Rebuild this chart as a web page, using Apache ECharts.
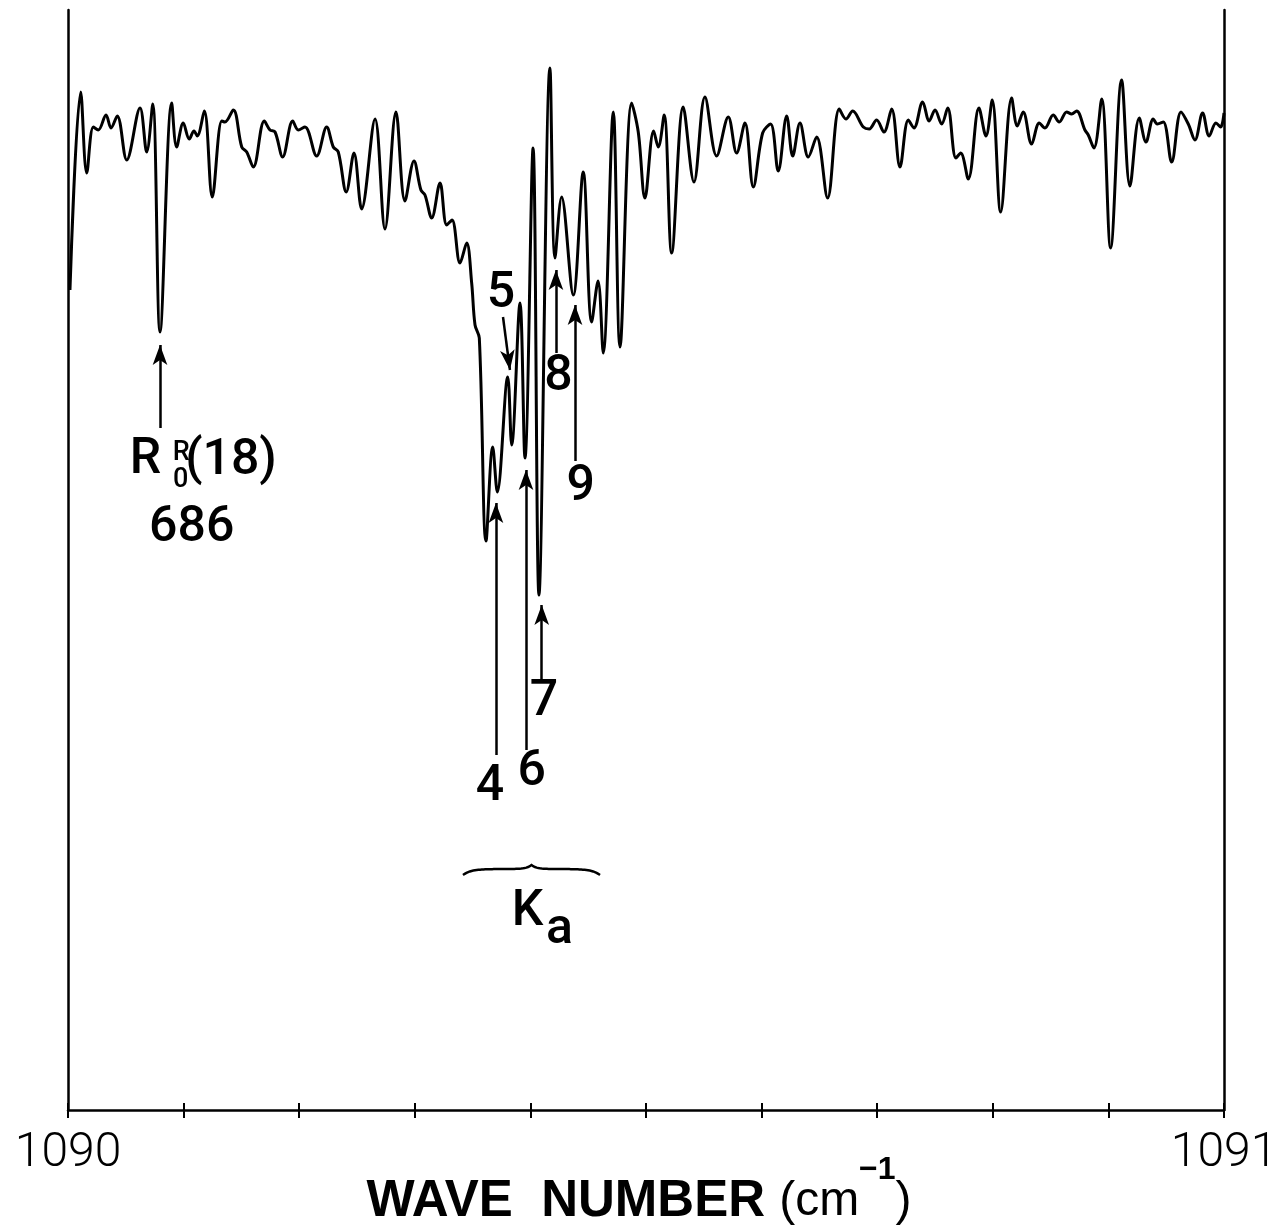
<!DOCTYPE html>
<html><head><meta charset="utf-8">
<script src="https://cdn.jsdelivr.net/npm/echarts@6/dist/echarts.min.js"></script>
<style>html,body{margin:0;padding:0;background:#fff}#c{width:1278px;height:1232px}</style>
</head><body><div id="c"></div>
<script>
// Wave number (cm^-1) of each traced point of the spectrum
const waveNumber = [1090.0017,1090.0110,1090.0162,1090.0219,1090.0262,1090.0329,1090.0372,1090.0426,1090.0508,1090.0623,
1090.0681,1090.0733,1090.0796,1090.0897,1090.0940,1090.0997,1090.1049,1090.1090,1090.1118,1090.1179,
1090.1248,1090.1330,1090.1358,1090.1430,1090.1503,1090.1546,1090.1603,1090.1698,1090.1747,1090.1791,
1090.1857,1090.1944,1090.1992,1090.2050,1090.2151,1090.2238,1090.2295,1090.2338,1090.2407,1090.2474,
1090.2540,1090.2656,1090.2742,1090.2837,1090.2915,1090.2993,1090.3053,1090.3088,1090.3146,1090.3218,
1090.3276,1090.3322,1090.3391,1090.3449,1090.3492,1090.3521,1090.3558,1090.3616,1090.3674,1090.3714,
1090.3804,1090.3838,1090.3910,1090.3953,1090.4023,1090.4074,1090.4169,1090.4213,1090.4270,1090.4371,
1090.4457,1090.4530,1090.4585,1090.4630,1090.4717,1090.4775,1090.4876,1090.4933,1090.4991,1090.5066,
1090.5106,1090.5157,1090.5222,1090.5322,1090.5415,1090.5510,1090.5611,1090.5712,1090.5784,1090.5856,
1090.5928,1090.6009,1090.6078,1090.6144,1090.6217,1090.6269,1090.6332,1090.6404,1090.6476,1090.6571,
1090.6672,1090.6730,1090.6788,1090.6880,1090.6931,1090.6995,1090.7058,1090.7125,1090.7197,1090.7269,
1090.7318,1090.7393,1090.7450,1090.7500,1090.7558,1090.7610,1090.7681,1090.7722,1090.7788,1090.7880,
1090.7941,1090.7995,1090.8068,1090.8163,1090.8212,1090.8263,1090.8336,1090.8402,1090.8451,1090.8523,
1090.8575,1090.8639,1090.8682,1090.8725,1090.8797,1090.8826,1090.8875,1090.8942,1090.9019,1090.9114,
1090.9186,1090.9267,1090.9325,1090.9388,1090.9423,1090.9475,1090.9547,1090.9628,1090.9691,1090.9749,
1090.9815,1090.9872,1090.9930,1090.9971,1091.0000];

// Transmission (arbitrary units) at each point
const transmission = [82.0,101.8,93.7,98.3,98.0,99.5,98.2,99.4,95.0,100.2,
95.8,100.6,77.8,100.7,96.3,98.7,97.1,97.9,97.4,99.9,
91.3,98.9,98.8,100.0,96.3,95.8,94.3,98.9,98.0,97.8,
95.3,98.9,98.0,98.3,95.4,98.3,96.3,95.8,91.8,95.7,
90.1,99.1,88.1,99.8,90.9,94.9,92.0,91.5,89.2,92.7,
88.5,89.0,84.7,86.7,82.7,78.5,77.2,56.9,66.3,61.8,
73.3,66.5,80.7,65.2,96.2,51.5,104.2,85.2,91.3,81.5,
93.8,78.8,82.9,75.7,99.8,76.3,100.7,97.8,91.2,97.9,
96.3,99.5,85.7,100.3,92.8,101.3,95.4,99.3,95.7,98.7,
92.3,97.7,98.6,93.9,99.4,95.4,98.7,95.3,97.3,91.2,
100.1,99.1,99.9,98.3,98.1,99.0,97.8,100.1,94.3,99.0,
98.2,100.8,98.9,100.0,98.6,100.2,95.2,95.7,93.1,100.2,
97.4,101.0,89.8,101.2,98.4,99.8,96.6,98.7,98.2,99.5,
98.8,99.8,99.6,99.9,98.0,97.5,96.2,101.1,86.2,103.0,
92.4,99.2,96.8,99.1,98.6,98.8,94.8,99.8,98.6,97.0,
99.7,97.4,98.7,98.3,99.7];

// Labelled ticks of the x axis
const labelledTicks = [1090, 1091];

// Annotation arrows: tail -> head, in data units
const arrowTail = [[1090.0796,68.2],[1090.3702,35.5],[1090.3763,79.3],[1090.3962,36.0],[1090.4098,43.0],[1090.4221,75.7],[1090.4386,64.9]];
const arrowHead = [[1090.0796,76.5],[1090.3702,60.7],[1090.3823,74.0],[1090.3962,64.0],[1090.4098,50.5],[1090.4221,84.0],[1090.4386,80.5]];

// Annotation texts (large) and their anchor points
const bigText = ['R','(18)','686','4','5','6','7','8','9','K','a'];
const bigX = [1090.0670,1090.1410,1090.1070,1090.3650,1090.3745,1090.4011,1090.4117,1090.4243,1090.4435,1090.3975,1090.4252];
const bigY = [65.0,64.9,58.2,32.3,81.6,33.8,40.8,73.3,62.3,19.75,18.0];

// Annotation texts (small super/subscripts)
const smallText = ['R','0'];
const smallX = [1090.0980,1090.0975];
const smallY = [65.7,63.0];

// Brace under the K_a group
const braceFrom = 1090.3417, braceTo = 1090.4602, braceLevel = 24.1;

const chart = echarts.init(document.getElementById('c'), null, {renderer:'canvas'});
const spectrum = waveNumber.map((x,i)=>[x, transmission[i]]);
const FONT = 'Liberation Sans';
const ANN = 'Roboto';

const option = {
  backgroundColor:'#fff',
  animation:false,
  title:{
    text:'{b|WAVE  NUMBER }{n|(cm}{s|−1}{n|)}',
    left:'center',top:1154,padding:0,
    textStyle:{fontWeight:'normal',rich:{
      b:{fontFamily:FONT,fontWeight:'bold',fontSize:51,color:'#000',lineHeight:96,verticalAlign:'middle'},
      n:{fontFamily:FONT,fontWeight:'normal',fontSize:48,color:'#000',lineHeight:96,verticalAlign:'middle'},
      s:{fontFamily:FONT,fontWeight:'bold',fontSize:32,color:'#000',lineHeight:30,verticalAlign:'top'}
    }}
  },
  grid:{left:68,right:54,top:10,bottom:122,containLabel:false,outerBoundsMode:'none'},
  xAxis:[{
    type:'value',min:1090,max:1091,interval:0.1,position:'bottom',
    axisLine:{show:true,lineStyle:{color:'#000',width:2.5}},
    axisTick:{show:true,inside:false,length:8,lineStyle:{color:'#000',width:2}},
    splitLine:{show:false},
    axisLabel:{show:true,margin:20,color:'#000',fontFamily:'Roboto',fontWeight:300,fontSize:48,
      formatter:v=>labelledTicks.some(t=>Math.abs(t-v)<1e-6)?String(Math.round(v)):''}
  },{
    type:'value',min:1090,max:1091,interval:0.1,position:'bottom',
    axisLine:{show:false},
    axisTick:{show:true,inside:true,length:7,lineStyle:{color:'#000',width:2}},
    axisLabel:{show:false},splitLine:{show:false}
  }],
  yAxis:[{
    type:'value',min:0,max:110,position:'left',
    axisLine:{show:true,lineStyle:{color:'#000',width:2.5}},
    axisTick:{show:false},axisLabel:{show:false},splitLine:{show:false}
  },{
    type:'value',min:0,max:110,position:'right',
    axisLine:{show:true,lineStyle:{color:'#000',width:2.5}},
    axisTick:{show:false},axisLabel:{show:false},splitLine:{show:false}
  }],
  series:[{
    type:'line',data:spectrum,showSymbol:false,smooth:0.35,clip:false,
    lineStyle:{color:'#000',width:3},
    markLine:{silent:true,animation:false,symbol:['none','arrow'],symbolSize:[11,20],
      label:{show:false},
      lineStyle:{color:'#000',width:2.5,type:'solid'},
      data:arrowTail.map((t,i)=>[{coord:t},{coord:arrowHead[i]}])}
  },{
    type:'scatter',symbolSize:0,itemStyle:{color:'#000'},
    data:bigText.map((t,i)=>({name:t,value:[bigX[i],bigY[i]]})),
    label:{show:true,position:'inside',formatter:'{b}',color:'#000',opacity:1,textBorderWidth:0,fontFamily:ANN,fontWeight:500,fontSize:50}
  },{
    type:'scatter',symbolSize:0,itemStyle:{color:'#000'},
    data:smallText.map((t,i)=>({name:t,value:[smallX[i],smallY[i]]})),
    label:{show:true,position:'inside',formatter:'{b}',color:'#000',opacity:1,textBorderWidth:0,fontFamily:ANN,fontWeight:500,fontSize:27}
  },{
    type:'custom',
    data:[[braceFrom,braceTo,braceLevel]],
    encode:{x:[0,1],y:2},
    renderItem:function(params,api){
      const a=api.coord([api.value(0),api.value(2)]);
      const b=api.coord([api.value(1),api.value(2)]);
      const pts=[];
      const N=80;
      for(let i=0;i<=N;i++){
        const t=i/N;
        const s=t<0.5?t/0.5:(1-t)/0.5;
        const off=6*Math.exp(-9*s)-4*Math.exp(-14*(1-s));
        pts.push([a[0]+t*(b[0]-a[0]), a[1]+off]);
      }
      return {type:'polyline',shape:{points:pts},style:{stroke:'#000',fill:'none',lineWidth:2.5}};
    }
  }]
};
chart.setOption(option);
</script>
</body></html>
